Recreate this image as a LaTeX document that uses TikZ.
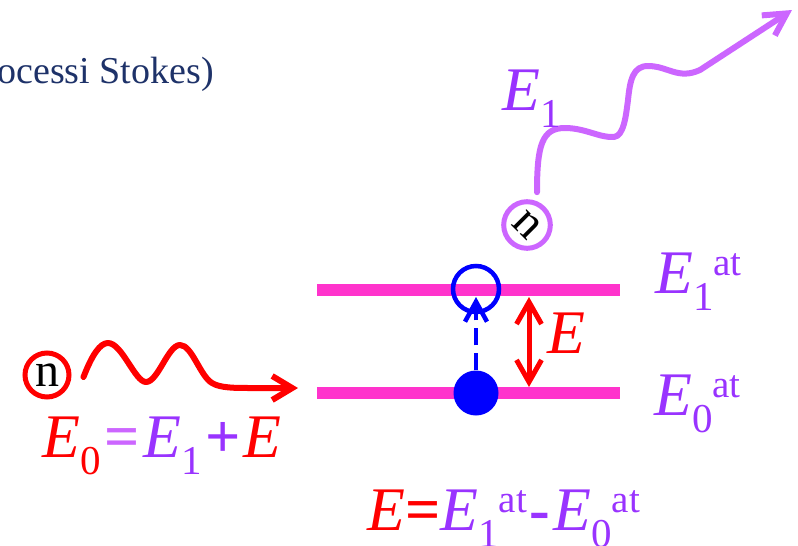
\documentclass[tikz,border=0pt]{standalone}
\usepackage{fontspec}
\setmainfont{Liberation Serif}
\usetikzlibrary{arrows.meta}
\definecolor{cRed}{HTML}{FF0000}
\definecolor{cPur}{HTML}{9933FF}
\definecolor{cLPur}{HTML}{CC66FF}
\definecolor{cMag}{HTML}{FF33CC}
\definecolor{cBlue}{HTML}{0000FF}
\definecolor{cNavy}{RGB}{30,50,105}
\newcommand{\sbs}[1]{\raisebox{-17pt}{\fontsize{41}{41}\selectfont #1}}
\newcommand{\sps}[1]{\raisebox{18pt}{\fontsize{39}{39}\selectfont #1}}
\tikzset{
  lvl/.style={line width=12pt, draw=cMag},
  lab/.style={anchor=base west, inner sep=0pt, font=\fontsize{62}{62}\selectfont},
  nball/.style={circle, draw, line width=5pt, minimum size=44pt, inner sep=0pt,
                font=\fontsize{48}{48}\selectfont, text=black},
  wave/.style={line width=6pt, line cap=round, line join=round},
}
\begin{document}
\begin{tikzpicture}[x=1pt, y=-1pt]
\useasboundingbox (0,0) rectangle (798,546);

% heading (cut at the left edge)
\node[anchor=base east, inner sep=0pt, text=cNavy, font=\fontsize{38}{38}\selectfont]
  (head) at (214,83) {ocessi Stokes)};

% energy levels
\coordinate (l1a) at (317,290); \coordinate (l1b) at (620,290);
\coordinate (l0a) at (317,393); \coordinate (l0b) at (620,393);
\draw[lvl] (l1a) -- (l1b);
\draw[lvl] (l0a) -- (l0b);

% electron
\node[circle, fill=cBlue, minimum size=45pt, inner sep=0pt] (el) at (476,393) {};
\node[circle, draw=cBlue, line width=4.5pt, minimum size=46pt, inner sep=0pt] (hole) at (476,289) {};
\coordinate (tipB) at (476,297);
\draw[cBlue, line width=4.5pt, dash pattern=on 17pt off 8pt,
      -{Straight Barb[length=20pt, width=22pt]}] (el.north) -- (tipB);

% energy gap arrow
\coordinate (gT) at (529,297); \coordinate (gB) at (529,387);
\draw[cRed, line width=5pt, {Straight Barb[length=22pt, width=25pt]}-{Straight Barb[length=22pt, width=25pt]}] (gT) -- (gB);
\node[lab, text=cRed] (gE) at (547,353) {\textit{E}};

% level labels
\node[lab, text=cPur] (L1) at (655,293) {\textit{E}\sbs{1}\sps{at}};
\node[lab, text=cPur] (L0) at (654,415) {\textit{E}\sbs{0}\sps{at}};

% incoming photon
\node[nball, draw=cRed] (nIn) at (47,375) {n};
\coordinate (rEnd) at (298,388);
\draw[wave, cRed, -{Straight Barb[length=20pt, width=24pt]}]
  (nIn.east) ++(12,2)
  .. controls (92,355) and (100,343) .. (108,343)
  .. controls (122,343) and (135,382) .. (146,382)
  .. controls (158,382) and (168,345) .. (180,345)
  .. controls (192,345) and (200,376) .. (212,383)
  .. controls (220,388) and (235,388) .. (250,388)
  -- (rEnd);

% outgoing photon
\node[nball, draw=cLPur, minimum size=45pt] (nOut) at (527,225) {\rotatebox{-45}{n}};
\coordinate (pEnd) at (792,10);
\draw[wave, cLPur, -{Straight Barb[length=22pt, width=24pt]}]
  (nOut.north) ++(10,-7)
  .. controls (537,145) and (542,128) .. (565,128)
  .. controls (585,128) and (600,138) .. (614,137)
  .. controls (624,136) and (626,115) .. (628,100)
  .. controls (630,80) and (633,66) .. (648,66)
  .. controls (668,66) and (678,80) .. (700,70)
  -- (pEnd);
\node[lab, text=cPur] (E1) at (502,110) {\textit{E}\sbs{1}};

% equations
\node[lab] (eq1) at (42,457) {\textcolor{cRed}{\textit{E}\sbs{0}}\kern4pt\textcolor{cLPur}{\textbf{=}}\kern4pt\textcolor{cPur}{\textit{E}\sbs{1}\kern3pt\textbf{+}\kern3pt}\textcolor{cRed}{\textit{E}}};
\node[lab] (eq2) at (367,530) {\textcolor{cRed}{\textit{E}\textbf{=}}\textcolor{cPur}{\textit{E}\sbs{1}\sps{at}\kern3pt\textbf{-}\kern3pt\textit{E}\sbs{0}\sps{at}}};
\end{tikzpicture}
\end{document}
